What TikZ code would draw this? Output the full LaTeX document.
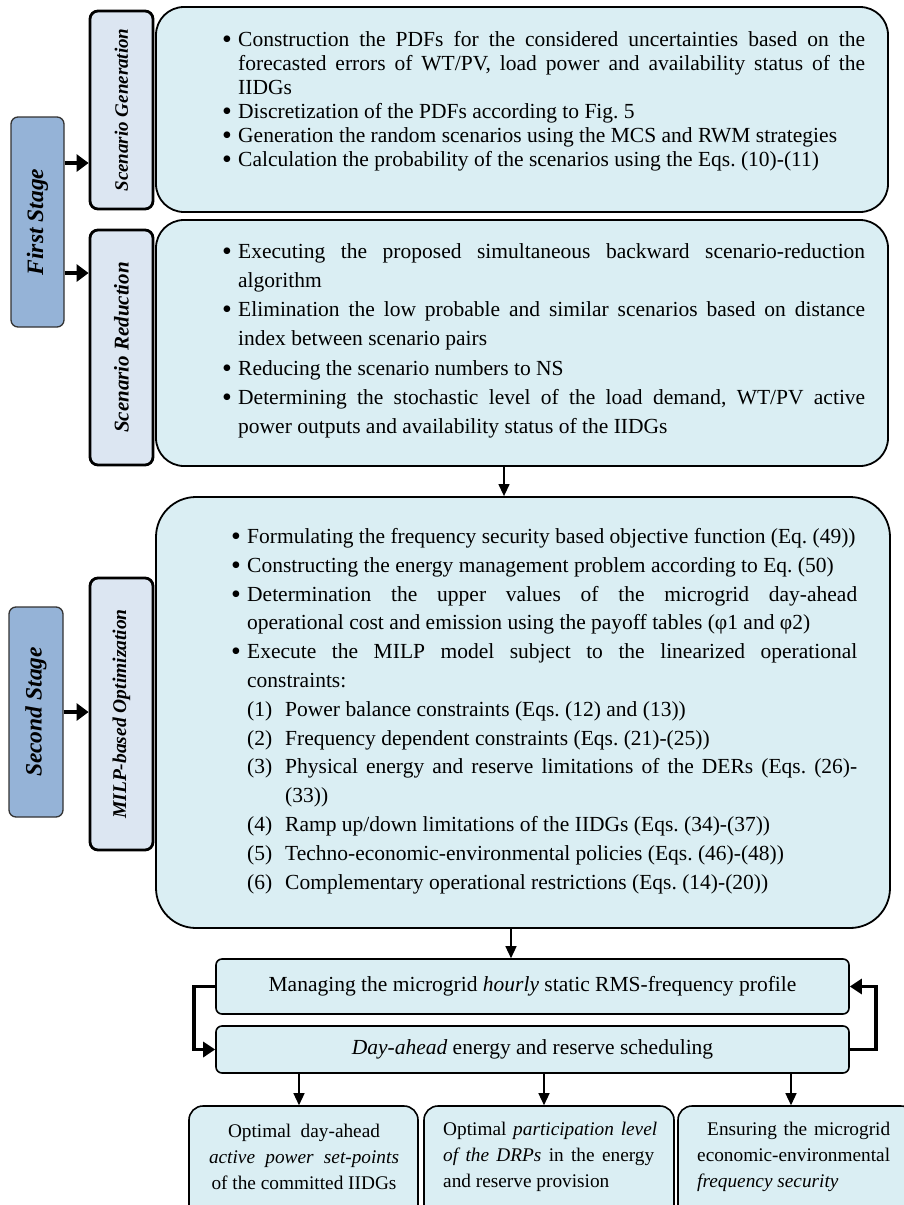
\documentclass[tikz,border=0pt]{standalone}
\usepackage{fontspec}
\usepackage{graphicx}
\setmainfont{Liberation Serif}
\usetikzlibrary{arrows.meta}
\definecolor{bigfill}{HTML}{DAEEF3}
\definecolor{subfill}{HTML}{DCE6F2}
\definecolor{stagefill}{HTML}{95B3D7}
\newcommand{\bigbullet}{\raisebox{-2.2pt}[0pt][0pt]{\scalebox{1.3}{\textbullet}}}
\newcommand{\bul}[1]{\par\noindent\hangindent=16pt\hangafter=1\makebox[16pt][l]{\bigbullet}#1\par}
\newcommand{\numit}[2]{\par\noindent\hangindent=54pt\hangafter=1\hspace*{16pt}\makebox[38pt][l]{#1}#2\par}
\newcommand{\txtsetup}{\frenchspacing\hyphenpenalty=10000\exhyphenpenalty=10000\tolerance=9999\emergencystretch=30pt\parskip=0pt}
\begin{document}
\begin{tikzpicture}[x=1pt,y=-1pt,
  bigbox/.style={draw=black, line width=1.8pt, fill=bigfill, rounded corners=28pt, inner sep=0pt},
  subbox/.style={draw=black, line width=2.8pt, fill=subfill, rounded corners=8pt, inner sep=0pt},
  stagebox/.style={draw=black!80, line width=1.3pt, fill=stagefill, rounded corners=7pt, inner sep=0pt},
  flowbox/.style={draw=black, line width=1.6pt, fill=bigfill, rounded corners=6pt, inner sep=0pt},
  outbox/.style={draw=black, line width=1.6pt, fill=bigfill, rounded corners=14pt, inner sep=0pt},
  rotlabel/.style={rotate=90, inner sep=0pt},
  listtext/.style={anchor=base west, inner sep=0pt, align=justify},
  outtext/.style={inner sep=0pt, font=\fontsize{19.3}{26}\selectfont},
  thinarr/.style={line width=1.3pt, -{Triangle[length=12pt,width=11pt]}},
  thickarr/.style={line width=4pt, -{Triangle[length=12pt,width=17pt]}},
  looparr/.style={line width=3.5pt, -{Triangle[length=12pt,width=15pt]}}
]
\useasboundingbox (0,0) rectangle (904,1205);
\clip (0,0) rectangle (904,1205);
\fill[white] (0,0) rectangle (904,1205);

% stage boxes
\node[stagebox, minimum width=53pt, minimum height=210pt] (FS) at (37.5,222) {};
\node[rotlabel, font=\fontsize{23.5}{28}\selectfont\bfseries\itshape] at (FS) {First Stage};
\node[stagebox, minimum width=54pt, minimum height=210pt] (SS) at (36,712) {};
\node[rotlabel, font=\fontsize{23.5}{28}\selectfont\bfseries\itshape] at (SS) {Second Stage};

% sub boxes
\node[subbox, minimum width=63pt, minimum height=198pt] (SG) at (121.5,110) {};
\node[rotlabel, font=\fontsize{19}{22}\selectfont\bfseries\itshape] at (SG) {Scenario Generation};
\node[subbox, minimum width=63pt, minimum height=235pt] (SR) at (121.5,347.5) {};
\node[rotlabel, font=\fontsize{21}{24}\selectfont\bfseries\itshape] at (SR) {Scenario Reduction};
\node[subbox, minimum width=63pt, minimum height=272pt] (MI) at (121.5,714) {};
\node[rotlabel, font=\fontsize{19.5}{22}\selectfont\bfseries\itshape] at (MI) {MILP-based Optimization};

% big boxes
\node[bigbox, minimum width=732pt, minimum height=205pt] (B1) at (522,109.5) {};
\node[bigbox, minimum width=732pt, minimum height=246pt] (B2) at (522,343) {};
\node[bigbox, rounded corners=40pt, minimum width=734pt, minimum height=431pt] (B3) at (523,712.5) {};

\node[listtext, text width=643pt, font=\fontsize{21.5}{24}\selectfont\txtsetup] at (222,22.5) {%
\bul{Construction the PDFs for the considered uncertainties based on the\linebreak forecasted errors of WT/PV, load power and availability status of the\linebreak IIDGs}
\bul{Discretization of the PDFs according to Fig. 5}
\bul{Generation the random scenarios using the MCS and RWM strategies}
\bul{Calculation the probability of the scenarios using the Eqs. (10)-(11)}};

\node[listtext, text width=643pt, font=\fontsize{21.5}{29.3}\selectfont\txtsetup] at (222,228.7) {%
\bul{Executing the proposed simultaneous backward scenario-reduction\linebreak algorithm}
\bul{Elimination the low probable and similar scenarios based on distance\linebreak index between scenario pairs}
\bul{Reducing the scenario numbers to NS}
\bul{Determining the stochastic level of the load demand, WT/PV active\linebreak power outputs and availability status of the IIDGs}};

\node[listtext, text width=626pt, font=\fontsize{21.5}{28.8}\selectfont\txtsetup] at (231,514.7) {%
\bul{Formulating the frequency security based objective function (Eq. (49))}
\bul{Constructing the energy management problem according to Eq. (50)}
\bul{Determination the upper values of the microgrid day-ahead\linebreak operational cost and emission using the payoff tables (φ1 and φ2)}
\bul{Execute the MILP model subject to the linearized operational\linebreak constraints:}
\numit{(1)}{Power balance constraints (Eqs. (12) and (13))}
\numit{(2)}{Frequency dependent constraints (Eqs. (21)-(25))}
\numit{(3)}{Physical energy and reserve limitations of the DERs (Eqs. (26)-\linebreak(33))}
\numit{(4)}{Ramp up/down limitations of the IIDGs (Eqs. (34)-(37))}
\numit{(5)}{Techno-economic-environmental policies (Eqs. (46)-(48))}
\numit{(6)}{Complementary operational restrictions (Eqs. (14)-(20))}};

% flow boxes
\node[flowbox, minimum width=633pt, minimum height=55pt, font=\fontsize{21.5}{26}\selectfont] (M) at (532.5,986.5) {Managing the microgrid \textit{hourly} static RMS-frequency profile};
\node[flowbox, minimum width=633pt, minimum height=47pt, font=\fontsize{21.5}{26}\selectfont] (D) at (532.5,1049.5) {\textit{Day-ahead} energy and reserve scheduling};

% output boxes
\node[outbox, minimum width=229pt, minimum height=119pt] (O1) at (303.5,1165.5) {};
\node[outbox, minimum width=250pt, minimum height=119pt] (O2) at (549,1165.5) {};
\node[outbox, minimum width=237pt, minimum height=119pt] (O3) at (796.5,1165.5) {};
\node[outtext, align=center] at (304,1157) {\makebox[152pt][s]{Optimal day-ahead}\\ \makebox[190pt][s]{\itshape active power set-points}\\ of the committed IIDGs};
\node[outtext, align=left, anchor=west] at (443,1157) {\makebox[214pt][s]{Optimal \textit{participation level}}\\ \makebox[211pt][s]{\textit{of the DRPs} in the energy}\\ and reserve provision};
\node[outtext, align=left, anchor=west] at (697,1157) {\hspace*{10pt}\makebox[183pt][s]{Ensuring the microgrid}\\ economic-environmental\\ \textit{frequency security}};

% connectors
\draw[thickarr] ([yshift=59pt]FS.east) -- ([yshift=59pt]FS.east -| SG.west);
\draw[thickarr] ([yshift=-51pt]FS.east) -- ([yshift=-51pt]FS.east -| SR.west);
\draw[thickarr] (SS.east) -- (SS.east -| MI.west);
\draw[thinarr] ([xshift=-18pt]B2.south) -- ([xshift=-18pt]B2.south |- B3.north);
\draw[thinarr] ([xshift=-12pt]B3.south) -- ([xshift=-12pt]B3.south |- M.north);
\draw[looparr] (M.west) -- ++(-21,0) |- (D.west);
\draw[looparr] (D.east) -- ++(26,0) |- (M.east);
\draw[thinarr] ([xshift=-4.5pt]O1.north |- D.south) -- ([xshift=-4.5pt]O1.north);
\draw[thinarr] ([xshift=-5pt]O2.north |- D.south) -- ([xshift=-5pt]O2.north);
\draw[thinarr] ([xshift=-5.5pt]O3.north |- D.south) -- ([xshift=-5.5pt]O3.north);
\end{tikzpicture}
\end{document}
